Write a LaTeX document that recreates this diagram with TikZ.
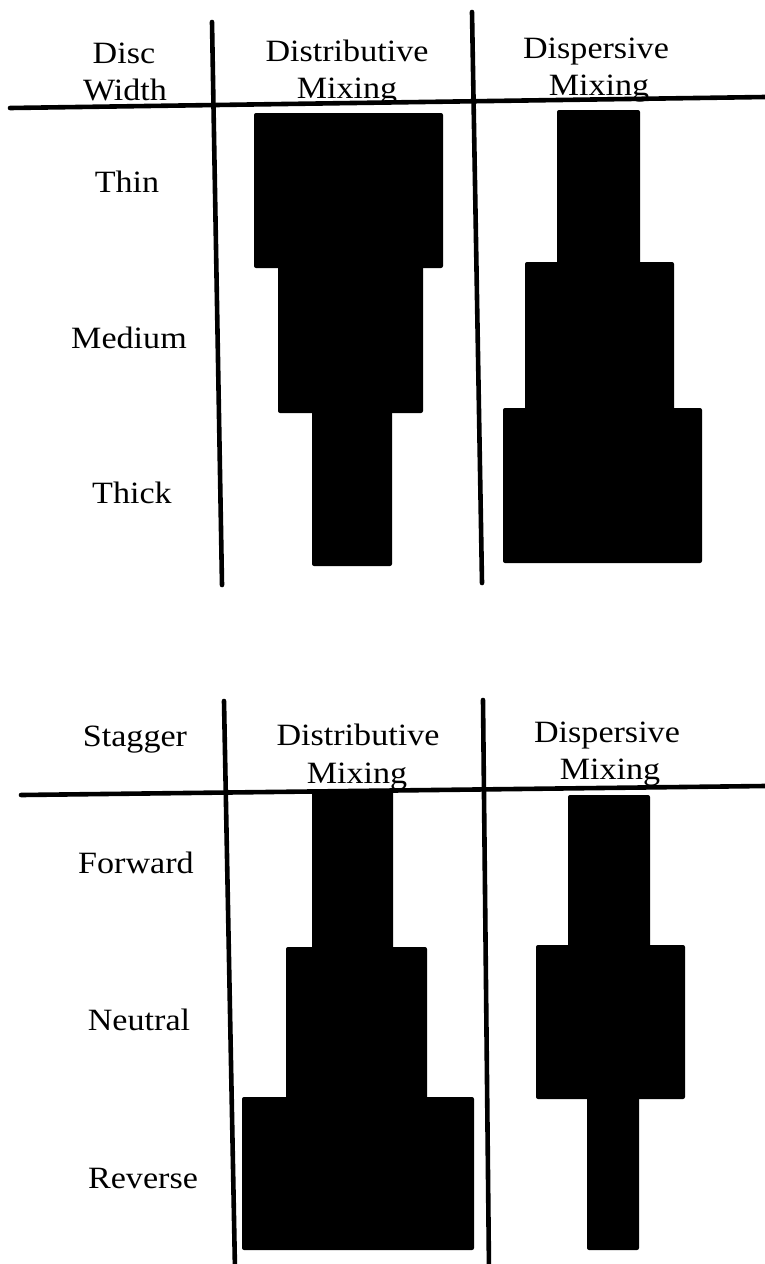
\documentclass[tikz,border=0pt]{standalone}
\usepackage{fontspec}
\setmainfont{Liberation Serif}
\begin{document}
\begin{tikzpicture}[x=1pt,y=-1pt,
  rule/.style={line width=4.6pt,line cap=round},
  bar/.style={fill=black,rounded corners=2pt},
  lbl/.style={anchor=base,inner sep=0pt,font=\fontsize{31}{36}\selectfont,xscale=1.1}]
\useasboundingbox (0,0) rectangle (765,1264);

% ---------- Disc width table ----------
\draw[rule] (212,22) -- (222,585);
\draw[rule] (472,12) -- (482,583);
\draw[rule] (10,108) -- (765,97);

\node[lbl] (dw1) at (124,63) {Disc};
\node[lbl] (dw2) at (125,100) {Width};
\node[lbl] (dh1) at (347,61) {Distributive};
\node[lbl] (dh2) at (347,98) {Mixing};
\node[lbl] (sh1) at (596,58) {Dispersive};
\node[lbl] (sh2) at (599,95) {Mixing};
\node[lbl] (thin) at (127,192) {Thin};
\node[lbl] (medium) at (129,348) {Medium};
\node[lbl] (thick) at (132,503) {Thick};

% distributive profile
\fill[bar] (254,113) rectangle (443,268);
\fill[bar] (278,266) rectangle (423,413);
\fill[bar] (312,411) rectangle (392,566);
% dispersive profile
\fill[bar] (557,110) rectangle (640,264);
\fill[bar] (525,262) rectangle (674,410);
\fill[bar] (503,408) rectangle (702,563);

% ---------- Stagger table ----------
\draw[rule] (224,701) -- (235,1270);
\draw[rule] (483,700) -- (489,1270);
\draw[rule] (21,795) -- (765,786);

\node[lbl] (st) at (135,746) {Stagger};
\node[lbl] (dh3) at (358,745) {Distributive};
\node[lbl] (dh4) at (357,783) {Mixing};
\node[lbl] (sh3) at (607,742) {Dispersive};
\node[lbl] (sh4) at (610,779) {Mixing};
\node[lbl] (fwd) at (136,873) {Forward};
\node[lbl] (neu) at (139,1030) {Neutral};
\node[lbl] (rev) at (143,1188) {Reverse};

% distributive profile
\fill[bar] (312,790) rectangle (393,949);
\fill[bar] (286,947) rectangle (427,1099);
\fill[bar] (242,1097) rectangle (474,1250);
% dispersive profile
\fill[bar] (568,795) rectangle (650,947);
\fill[bar] (536,945) rectangle (685,1099);
\fill[bar] (587,1097) rectangle (639,1250);
\end{tikzpicture}
\end{document}
